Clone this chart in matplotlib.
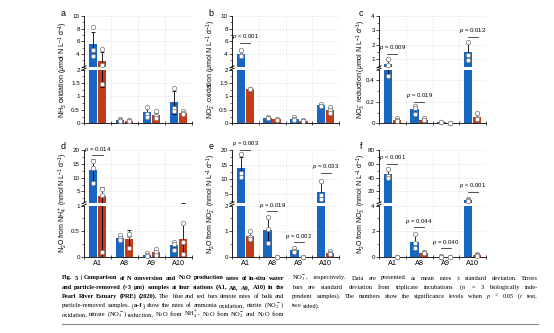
import numpy as np
import matplotlib
matplotlib.use('Agg')
import matplotlib.pyplot as plt
from matplotlib.lines import Line2D
from matplotlib.ticker import AutoMinorLocator, FuncFormatter

plt.rcParams['font.family'] = ['Liberation Sans', 'DejaVu Sans']
plt.rcParams['mathtext.fontset'] = 'custom'
plt.rcParams['mathtext.rm'] = 'Liberation Sans'
plt.rcParams['mathtext.it'] = 'Liberation Sans:italic'
plt.rcParams['mathtext.bf'] = 'Liberation Sans:bold'
plt.rcParams['axes.linewidth'] = 0.6

W, H = 554, 333
BLUE = '#1766c2'
RED = '#c03c1c'

stations = ['A1', 'A8', 'A9', 'A10']

# a - NH3 oxidation (umol N/L/d)
nh3_bulk = [5.5, 0.12, 0.41, 0.78]
nh3_bulk_sd = [2.0, 0.03, 0.19, 0.42]
nh3_bulk_pts = [[8.3, 4.6, 3.7], [0.15, 0.12, 0.10], [0.62, 0.36, 0.25], [1.3, 0.56, 0.47]]
nh3_rm = [2.85, 0.10, 0.30, 0.39]
nh3_rm_sd = [1.5, 0.02, 0.10, 0.05]
nh3_rm_pts = [[4.8, 2.25, 1.45], [0.13, 0.10, 0.08], [0.45, 0.28, 0.18], [0.45, 0.38, 0.34]]

# b - NO2- oxidation
no2_bulk = [4.05, 0.20, 0.17, 0.67]
no2_bulk_sd = [0.45, 0.03, 0.05, 0.05]
no2_bulk_pts = [[4.6, 3.9, 3.7], [0.23, 0.19, 0.18], [0.23, 0.15, 0.13], [0.73, 0.65, 0.63]]
no2_rm = [1.27, 0.15, 0.09, 0.50]
no2_rm_sd = [0.02, 0.02, 0.02, 0.12]
no2_rm_pts = [[1.29, 1.27, 1.26], [0.17, 0.15, 0.13], [0.11, 0.09, 0.07], [0.62, 0.48, 0.38]]

# c - NO3- reduction
no3_bulk = [0.67, 0.133, 0.01, 1.5]
no3_bulk_sd = [0.25, 0.035, 0.005, 0.6]
no3_bulk_pts = [[1.0, 0.58, 0.44], [0.165, 0.14, 0.09], [0.012, 0.01, 0.008], [2.2, 1.33, 0.95]]
no3_rm = [0.035, 0.035, 0.005, 0.06]
no3_rm_sd = [0.01, 0.008, 0.002, 0.025]
no3_rm_pts = [[0.05, 0.03, 0.025], [0.045, 0.035, 0.028], [0.006, 0.005, 0.004], [0.095, 0.05, 0.04]]

# d - N2O from NH4+ (nmol N/L/d)
n2o_nh4_bulk = [12.6, 0.37, 0.045, 0.23]
n2o_nh4_bulk_sd = [4.0, 0.04, 0.02, 0.07]
n2o_nh4_bulk_pts = [[16.2, 13.4, 8.2], [0.43, 0.36, 0.33], [0.08, 0.04, 0.02], [0.30, 0.25, 0.13]]
n2o_nh4_rm = [3.25, 0.35, 0.10, 0.34]
n2o_nh4_rm_sd = [3.3, 0.17, 0.08, 0.31]
n2o_nh4_rm_pts = [[5.8, 3.8, 0.1], [0.42, 0.45, 0.18], [0.16, 0.1, 0.04], [0.66, 0.3, 0.06]]

# e - N2O from NO2-
n2o_no2_bulk = [13.9, 1.06, 0.26, 5.7]
n2o_no2_bulk_sd = [3.6, 0.5, 0.08, 3.3]
n2o_no2_bulk_pts = [[18.8, 12.0, 10.9], [1.55, 1.1, 0.54], [0.36, 0.25, 0.2], [9.3, 4.6, 3.2]]
n2o_no2_rm = [0.82, 0.0, 0.0, 0.15]
n2o_no2_rm_sd = [0.14, 0.0, 0.0, 0.05]
n2o_no2_rm_pts = [[1.0, 0.78, 0.68], [0.0, 0.0, 0.0], [0.0, 0.0, 0.0], [0.22, 0.14, 0.1]]

# f - N2O from NO3-
n2o_no3_bulk = [45.0, 1.2, 0.03, 7.5]
n2o_no3_bulk_sd = [7.0, 0.55, 0.02, 1.3]
n2o_no3_bulk_pts = [[53.0, 43.0, 39.0], [1.8, 1.1, 0.7], [0.04, 0.03, 0.02], [9.0, 7.0, 6.5]]
n2o_no3_rm = [0.0, 0.34, 0.0, 0.15]
n2o_no3_rm_sd = [0.0, 0.04, 0.0, 0.08]
n2o_no3_rm_pts = [[0.0, 0.0, 0.0], [0.38, 0.33, 0.3], [0.0, 0.0, 0.0], [0.25, 0.12, 0.08]]

unit_u = r'($\mu$mol N L$^{-1}$ d$^{-1}$)'
unit_n = r'(nmol N L$^{-1}$ d$^{-1}$)'

panels = [
    dict(letter='a', ylabel='NH$_3$ oxidation ' + unit_u,
         bulk=(nh3_bulk, nh3_bulk_sd, nh3_bulk_pts), rm=(nh3_rm, nh3_rm_sd, nh3_rm_pts),
         low=(0, 2), high=(2, 10), low_ticks=[0, 0.5, 1, 1.5, 2], high_ticks=[4, 6, 8, 10], pvals=[]),
    dict(letter='b', ylabel='NO$_2^-$ oxidation ' + unit_u,
         bulk=(no2_bulk, no2_bulk_sd, no2_bulk_pts), rm=(no2_rm, no2_rm_sd, no2_rm_pts),
         low=(0, 2), high=(2, 10), low_ticks=[0, 0.5, 1, 1.5, 2], high_ticks=[4, 6, 8, 10],
         pvals=[(0, '$p$ < 0.001', 5.7)]),
    dict(letter='c', ylabel='NO$_3^-$ reduction ' + unit_u,
         bulk=(no3_bulk, no3_bulk_sd, no3_bulk_pts), rm=(no3_rm, no3_rm_sd, no3_rm_pts),
         low=(0, 0.5), high=(0.5, 4), low_ticks=[0, 0.2, 0.4], high_ticks=[1, 2, 3, 4],
         pvals=[(0, '$p$ = 0.009', 1.38), (1, '$p$ = 0.019', 0.197), (3, '$p$ = 0.012', 2.55)]),
    dict(letter='d', ylabel='N$_2$O from NH$_4^+$ ' + unit_n,
         bulk=(n2o_nh4_bulk, n2o_nh4_bulk_sd, n2o_nh4_bulk_pts), rm=(n2o_nh4_rm, n2o_nh4_rm_sd, n2o_nh4_rm_pts),
         low=(0, 1), high=(1, 20), low_ticks=[0, 0.5, 1], high_ticks=[5, 10, 15, 20],
         pvals=[(0, '$p$ = 0.014', 18.1)]),
    dict(letter='e', ylabel='N$_2$O from NO$_2^-$ ' + unit_n,
         bulk=(n2o_no2_bulk, n2o_no2_bulk_sd, n2o_no2_bulk_pts), rm=(n2o_no2_rm, n2o_no2_rm_sd, n2o_no2_rm_pts),
         low=(0, 2), high=(2, 20), low_ticks=[0, 1, 2], high_ticks=[5, 10, 15, 20],
         pvals=[(0, '$p$ = 0.003', 20), (1, '$p$ = 0.019', 1.77), (2, '$p$ = 0.002', 0.57), (3, '$p$ = 0.033', 12.1)]),
    dict(letter='f', ylabel='N$_2$O from NO$_3^-$ ' + unit_n,
         bulk=(n2o_no3_bulk, n2o_no3_bulk_sd, n2o_no3_bulk_pts), rm=(n2o_no3_rm, n2o_no3_rm_sd, n2o_no3_rm_pts),
         low=(0, 4), high=(4, 80), low_ticks=[0, 2, 4], high_ticks=[20, 40, 60, 80],
         pvals=[(0, '$p$ < 0.001', 60), (1, '$p$ = 0.044', 2.3), (2, '$p$ = 0.040', 0.67), (3, '$p$ < 0.001', 19.5)]),
]

fig = plt.figure(figsize=(W / 100, H / 100), dpi=100)


def px_axes(x0, x1, ytop, ybot):
    return fig.add_axes([x0 / W, 1 - ybot / H, (x1 - x0) / W, (ybot - ytop) / H])


cols = [(84, 192), (232, 339), (379, 486)]
rows = [((16, 66.5), (69.5, 123.3)), ((150, 202.5), (205.5, 257))]
label_x = [63, 211, 361]
fmt = FuncFormatter(lambda v, p: f'{v:g}')
x = np.arange(len(stations))

for i, pd_ in enumerate(panels):
    (x0, x1), (hi_y, lo_y) = cols[i % 3], rows[i // 3]
    top = px_axes(x0, x1, *hi_y)
    bot = px_axes(x0, x1, *lo_y)
    for ax, lim in ((top, pd_['high']), (bot, pd_['low'])):
        for off, (m, s, pts), c in ((-0.165, pd_['bulk'], BLUE), (0.165, pd_['rm'], RED)):
            ax.bar(x + off, m, 0.32, color=c, zorder=2)
            ax.errorbar(x + off, m, yerr=s, fmt='none', ecolor='black', elinewidth=0.6,
                        capsize=1.2, capthick=0.6, zorder=3)
            for xi, p in zip(x + off, pts):
                p = [v for v in p if lim[0] <= v <= lim[1]]
                ax.plot([xi] * len(p), p, 'o', ms=3.2, mfc='white', mec='#808080', mew=0.55,
                        zorder=4, clip_on=False)
        ax.set_xlim(-0.5, 3.5)
        ax.set_ylim(*lim)
        ax.spines[['top', 'right']].set_visible(False)
        ax.set_xticks(np.arange(-0.5, 4, 1), minor=True)
        ax.grid(True, which='minor', axis='x', ls=(0, (3, 2)), lw=0.4, color='#dcdcdc')
        ax.grid(True, which='major', axis='y', ls=(0, (3, 2)), lw=0.4, color='#dcdcdc')
        ax.set_axisbelow(True)
        ax.yaxis.set_major_formatter(fmt)
        ax.tick_params(axis='y', which='major', labelsize=4.5, length=2, width=0.5, pad=1)
        ax.tick_params(axis='y', which='minor', length=1.2, width=0.4)
    top.set_yticks(pd_['high_ticks'])
    bot.set_yticks(pd_['low_ticks'])
    top.yaxis.set_minor_locator(AutoMinorLocator(2))
    bot.yaxis.set_minor_locator(AutoMinorLocator(2))
    top.spines['bottom'].set_visible(False)
    top.tick_params(axis='x', which='both', bottom=False, labelbottom=False)
    bot.set_xticks(x)
    bot.tick_params(axis='x', which='major', length=0, labelsize=5.2, pad=2.5)
    bot.tick_params(axis='x', which='minor', length=2.4, width=0.5, direction='inout')
    if i < 3:
        bot.set_xticklabels([])
    else:
        bot.set_xticklabels(stations)

    # broken-axis marks on the y spine
    ym = (hi_y[1] + lo_y[0]) / 2
    for dy in (-1.2, 1.2):
        fig.add_artist(Line2D([(x0 - 2) / W, (x0 + 2) / W],
                              [1 - (ym + dy + 1) / H, 1 - (ym + dy - 1) / H],
                              color='black', lw=0.7))

    for g, lab, yv in pd_['pvals']:
        ax = top if yv >= pd_['high'][0] else bot
        ax.plot([g - 0.19, g + 0.19], [yv, yv], color='#333333', lw=0.6, clip_on=False, zorder=5)
        ax.annotate(lab, (g, yv), xytext=(0, 1.2), textcoords='offset points', ha='center',
                    va='bottom', fontsize=4.3, annotation_clip=False)

    ymid = (hi_y[0] + lo_y[1]) / 2
    fig.text(label_x[i % 3] / W, 1 - ymid / H, pd_['ylabel'], rotation=90, ha='center',
             va='center', fontsize=5)
    fig.text(label_x[i % 3] / W, 1 - (hi_y[0] - 3) / H, pd_['letter'], ha='center',
             va='center', fontsize=6.5)

# caption, two justified columns ('*' toggles bold)
left_lines = [
    r'*Fig. 5 | Comparison of N conversion and N$_\mathbf{2}$O production rates of in-situ water*',
    r'*and particle-removed (>3 μm) samples at four stations (A1, A8, A9, A10) in the*',
    r'*Pearl River Estuary (PRE) (2020).* The blue and red bars denote rates of bulk and',
    r'particle-removed samples. (*a–f*) show the rates of ammonia oxidation, nitrite (NO$_2^-$)',
    r'oxidation, nitrate (NO$_3^-$) reduction, N$_2$O from NH$_4^+$, N$_2$O from NO$_2^-$ and N$_2$O from',
]
right_lines = [
    r'NO$_3^-$, respectively. Data are presented as mean rates ± standard deviation. Errors',
    r'bars are standard deviation from triplicate incubations ($n$ = 3 biologically inde-',
    r'pendent samples). The numbers show the significance levels when $p$ < 0.05 ($t$ test,',
    r'two sided).',
]
line_y = [279.5, 288.8, 298.0, 307.2, 316.4]
left_col = (62, 284)
right_col = (292, 538)
MIN_GAP = 1.1

renderer = fig.canvas.get_renderer()


def make_words(line, fs):
    bold = False
    words = []
    for w in line.split(' '):
        pieces = []
        for k, s in enumerate(w.split('*')):
            if k > 0:
                bold = not bold
            if s:
                t = fig.text(0, 0, s, fontsize=fs, family='Liberation Serif',
                             fontweight='bold' if bold else 'normal', math_fontfamily='stix',
                             va='baseline', ha='left')
                pieces.append((t, t.get_window_extent(renderer).width))
        words.append(pieces)
    return words


# font size: largest that lets every justified line keep a minimum word gap
base = 5.0
fits = []
for lines, (c0, c1), n_just in ((left_lines, left_col, 5), (right_lines, right_col, 3)):
    for ln in lines[:n_just]:
        ws = make_words(ln, base)
        tot = sum(wd for pcs in ws for _, wd in pcs)
        fits.append((c1 - c0 - (len(ws) - 1) * MIN_GAP) / tot)
        for pcs in ws:
            for t, _ in pcs:
                t.remove()
CAP_FS = base * min(fits)


def put_line(x0, x1, y, line, justify=True):
    words = make_words(line, CAP_FS)
    total = sum(wd for pcs in words for _, wd in pcs)
    gap = CAP_FS * 100 / 72 * 0.25
    if justify and len(words) > 1:
        gap = (x1 - x0 - total) / (len(words) - 1)
    xx = x0
    for pcs in words:
        for t, wd in pcs:
            t.set_position((xx / W, 1 - y / H))
            xx += wd
        xx += gap


for k, ln in enumerate(left_lines):
    put_line(*left_col, line_y[k], ln)
for k, ln in enumerate(right_lines):
    put_line(*right_col, line_y[k], ln, justify=k < len(right_lines) - 1)

fig.add_artist(Line2D([62 / W, 538 / W], [1 - 323.5 / H] * 2, color='#8a8a8a', lw=0.8))

fig.savefig('out.png', dpi=100)
